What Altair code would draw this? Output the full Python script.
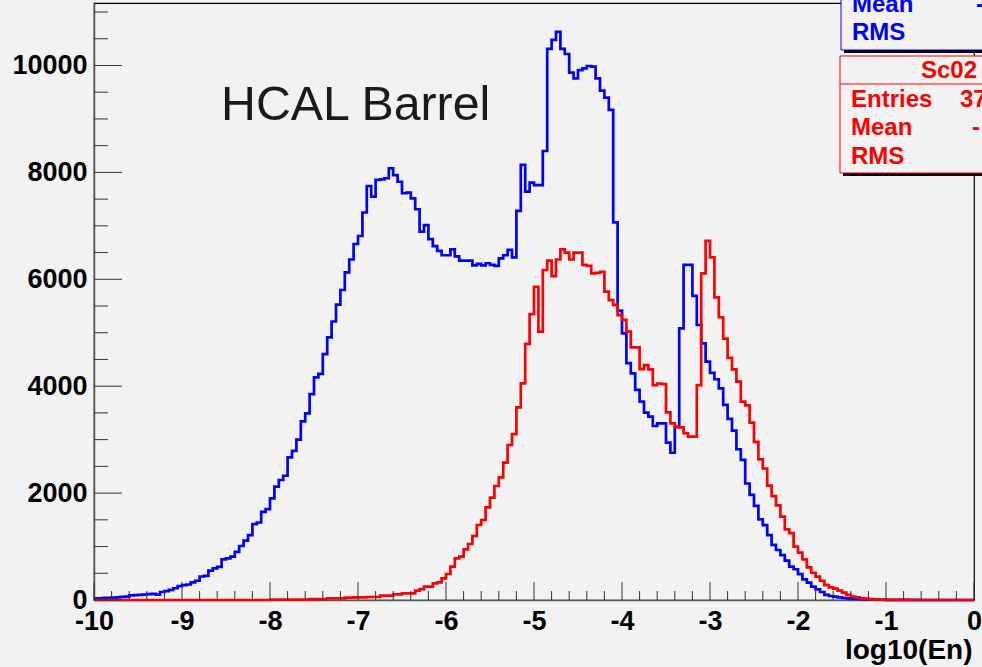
import altair as alt
import pandas as pd

# ---------------- data ----------------
x_min, x_max = -10.0, 0.0
n_bins = 200

blue_counts = [
    30, 32, 38, 40, 45, 50, 60, 65, 85, 90,
    95, 100, 110, 115, 100, 150, 165, 190, 220, 260,
    280, 290, 330, 360, 440, 450, 550, 590, 620, 760,
    780, 810, 900, 1010, 1110, 1215, 1420, 1450, 1650, 1700,
    1900, 2120, 2245, 2325, 2670, 2790, 3000, 3340, 3490, 3850,
    4165, 4230, 4600, 4915, 5210, 5525, 5800, 6130, 6370, 6660,
    6810, 7250, 7745, 7545, 7860, 7870, 7890, 8075, 7950, 7825,
    7610, 7620, 7515, 7310, 6890, 7015, 6750, 6620, 6530, 6450,
    6450, 6560, 6430, 6350, 6350, 6350, 6260, 6290, 6260, 6300,
    6270, 6250, 6390, 6450, 6550, 6410, 7280, 8140, 7640, 7810,
    7760, 7760, 8400, 10310, 10480, 10630, 10310, 10215, 9865, 9760,
    9915, 9945, 9990, 9980, 9760, 9530, 9400, 9170, 7065, 5413,
    4990, 4430, 4240, 3930, 3710, 3505, 3430, 3255, 3305, 3305,
    2945, 2755, 3240, 5080, 6270, 6270, 5690, 5145, 4800, 4460,
    4250, 4130, 3960, 3650, 3390, 3170, 2820, 2620, 2180, 1965,
    1760, 1510, 1400, 1215, 1030, 935, 840, 735, 625, 575,
    485, 385, 325, 250, 200, 150, 95, 75, 62, 50,
    37, 30, 25, 20, 15, 12, 10, 8, 6, 5,
    4, 3, 3, 2, 2, 1, 1, 1, 0, 0,
    0, 0, 0, 0, 0, 0, 0, 0, 0, 0,
]

red_counts = [
    0, 0, 0, 0, 0, 0, 0, 0, 0, 0,
    0, 0, 0, 0, 0, 0, 0, 0, 0, 0,
    0, 0, 0, 0, 0, 0, 0, 0, 0, 0,
    0, 0, 0, 0, 0, 0, 0, 0, 0, 0,
    8, 8, 8, 8, 8, 8, 8, 8, 8, 15,
    15, 15, 15, 30, 30, 30, 30, 45, 45, 48,
    48, 48, 56, 56, 56, 81, 81, 81, 106, 106,
    125, 125, 125, 175, 205, 250, 250, 312, 330, 405,
    486, 624, 780, 810, 948, 1048, 1197, 1403, 1497, 1734,
    1914, 2133, 2295, 2570, 2900, 3105, 3605, 4053, 4790, 5350,
    5860, 5020, 6174, 6350, 6060, 6370, 6560, 6500, 6370, 6500,
    6500, 6270, 6250, 6110, 6120, 6140, 5770, 5610, 5520, 5330,
    5240, 5020, 4727, 4727, 4320, 4396, 4315, 4020, 4050, 4040,
    3510, 3305, 3240, 3230, 3120, 3055, 3055, 4020, 6110, 6720,
    6410, 5660, 5290, 4890, 4530, 4315, 4085, 3710, 3640, 3320,
    2960, 2630, 2460, 2140, 1945, 1770, 1560, 1320, 1250, 1000,
    885, 760, 610, 510, 437, 360, 280, 237, 212, 175,
    137, 95, 62, 50, 37, 25, 18, 12, 8, 6,
    4, 3, 2, 2, 1, 0, 0, 0, 0, 0,
    0, 0, 0, 0, 0, 0, 0, 0, 0, 0,
]

x_tick_values = list(range(-10, 1))
y_tick_values = [0, 2000, 4000, 6000, 8000, 10000]
y_max = 11169

title_text = "HCAL Barrel"
axis_title = "log10(En)"
blue_stats = ["Mean", "RMS"]
red_stats_header = "Sc02"
red_stats = ["Entries", "Mean", "RMS"]
red_entries_value = "37"

# ---------------- layout ----------------
W, H = 880, 597
BG = "#f2f2f2"
FONT = "Liberation Sans"

bw = (x_max - x_min) / n_bins
edges = [round(x_min + i * bw, 4) for i in range(n_bins + 1)]
blue_df = pd.DataFrame({"x": edges, "count": blue_counts + [blue_counts[-1]]})
red_df = pd.DataFrame({"x": edges, "count": red_counts + [red_counts[-1]]})

xscale = alt.Scale(domain=[x_min, x_max], nice=False, zero=False)
yscale = alt.Scale(domain=[0, y_max], nice=False, zero=False)

x_axis = alt.Axis(
    values=x_tick_values,
    labelExpr="datum.value == 0 ? '0' : '-' + abs(datum.value)",
    labelFont=FONT, labelFontWeight="bold", labelFontSize=27, labelColor="#000",
    labelPadding=8, labelFlush=False, labelOverlap=False,
    tickSize=0, domainColor="#555", domainWidth=1.5, grid=False,
    title=axis_title, titleFont=FONT, titleFontWeight="bold", titleFontSize=28,
    titleColor="#000", titleAnchor="end", titleAlign="right",
    titleX=W - 2, titleY=58, titleBaseline="alphabetic",
)
y_axis = alt.Axis(
    values=y_tick_values, format="d",
    labelFont=FONT, labelFontWeight="bold", labelFontSize=27, labelColor="#000",
    labelPadding=7, labelFlush=False, labelOverlap=False,
    tickSize=0, domainColor="#555", domainWidth=1.5, grid=False, title="",
)

blue_line = alt.Chart(blue_df).mark_line(
    interpolate="step-after", color="#0000ff", strokeWidth=2.7
).encode(
    x=alt.X("x:Q", scale=xscale, axis=x_axis),
    y=alt.Y("count:Q", scale=yscale, axis=y_axis),
)
red_line = alt.Chart(red_df).mark_line(
    interpolate="step-after", color="#ff0000", strokeWidth=2.7
).encode(
    x=alt.X("x:Q", scale=xscale, axis=x_axis),
    y=alt.Y("count:Q", scale=yscale, axis=y_axis),
)

# inner ticks (ROOT style)
x_major = pd.DataFrame({"x": [float(v) for v in x_tick_values]})
x_minor = pd.DataFrame({"x": [round(x_min + 0.2 * i, 2) for i in range(51) if i % 5 != 0]})
y_major = pd.DataFrame({"count": y_tick_values})
y_minor = pd.DataFrame({"count": [500 * i for i in range(1, 23) if i % 4 != 0]})

tick_color = "#333"
xt_major = alt.Chart(x_major).mark_rule(color=tick_color, strokeWidth=1).encode(
    x=alt.X("x:Q", scale=xscale, axis=x_axis), y=alt.value(H), y2=alt.value(H - 18))
xt_minor = alt.Chart(x_minor).mark_rule(color=tick_color, strokeWidth=1).encode(
    x=alt.X("x:Q", scale=xscale, axis=x_axis), y=alt.value(H), y2=alt.value(H - 9))
yt_major = alt.Chart(y_major).mark_rule(color=tick_color, strokeWidth=1).encode(
    y=alt.Y("count:Q", scale=yscale, axis=y_axis), x=alt.value(0), x2=alt.value(28))
yt_minor = alt.Chart(y_minor).mark_rule(color=tick_color, strokeWidth=1).encode(
    y=alt.Y("count:Q", scale=yscale, axis=y_axis), x=alt.value(0), x2=alt.value(14))

one = pd.DataFrame({"a": [0]})

title_mark = alt.Chart(one).mark_text(
    align="left", baseline="alphabetic", font=FONT, fontSize=48.3, color="#1a1a1a"
).encode(x=alt.value(127), y=alt.value(117), text=alt.value(title_text))


def box(x0, y0, x1, y1, stroke):
    shadow = alt.Chart(one).mark_rect(color="#000").encode(
        x=alt.value(x0 + 3), x2=alt.value(x1 + 3), y=alt.value(y0 + 3), y2=alt.value(y1 + 3))
    body = alt.Chart(one).mark_rect(fill=BG, stroke=stroke, strokeWidth=1).encode(
        x=alt.value(x0), x2=alt.value(x1), y=alt.value(y0), y2=alt.value(y1))
    return [shadow, body]


def txt(s, x, y, color, align="left"):
    return alt.Chart(one).mark_text(
        align=align, baseline="middle", font=FONT, fontSize=24, fontWeight="bold", color=color
    ).encode(x=alt.value(x), y=alt.value(y), text=alt.value(s))


blue_c = "#0000ff"
red_c = "#ff0000"
stat_layers = []
stat_layers += box(747, -13, 906, 47, blue_c)
stat_layers += [txt(blue_stats[0], 758, 2, blue_c), txt("-", 886, 2, blue_c, "center"),
                txt(blue_stats[1], 758, 30, blue_c)]
stat_layers += box(746, 53, 906, 170, red_c)
stat_layers += [alt.Chart(one).mark_rule(color=red_c, strokeWidth=1).encode(
    x=alt.value(746), x2=alt.value(906), y=alt.value(81))]
stat_layers += [txt(red_stats_header, 883, 68, red_c, "right"),
                txt(red_stats[0], 757, 97, red_c), txt(red_entries_value, 866, 97, red_c),
                txt(red_stats[1], 757, 125, red_c), txt("-", 882, 125, red_c, "center"),
                txt(red_stats[2], 757, 154, red_c)]

chart = alt.layer(
    blue_line, red_line, xt_major, xt_minor, yt_major, yt_minor, title_mark, *stat_layers
).properties(
    width=W, height=H, background=BG,
    padding={"left": 94, "top": 3, "right": 8, "bottom": 67},
    autosize=alt.AutoSizeParams(type="none"),
).configure_view(stroke="#000", strokeWidth=1.2)

chart.save("out.html", embed_options={"renderer": "svg", "actions": False})
